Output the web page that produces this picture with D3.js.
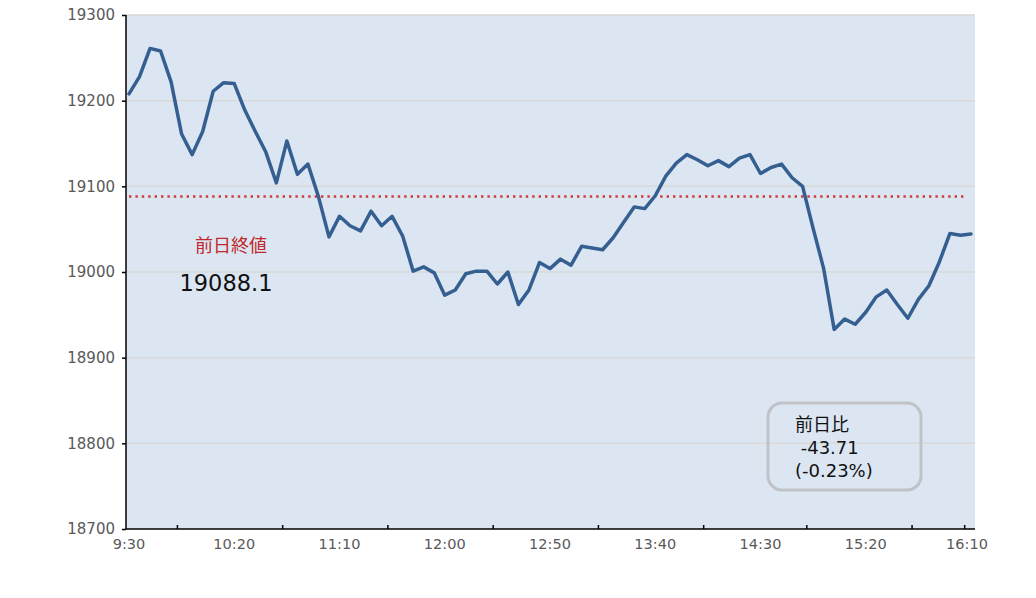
<!DOCTYPE html>
<html>
<head>
<meta charset="utf-8">
<script src="https://cdn.jsdelivr.net/npm/d3@7"></script>
<style>
  body { margin: 0; background: #fff; }
  svg { display: block; font-family: "DejaVu Sans", "Noto Sans CJK JP", sans-serif; }
</style>
</head>
<body>
<div id="chart"></div>
<script>
// 5-minute intervals from 9:30 to 16:10
const minutes = d3.range(0, 405, 5);
const prices = [
    19208, 19228, 19261, 19258, 19222, 19161, 19137, 19164, 19211, 19221,
    19220, 19189, 19164, 19140, 19104, 19153, 19114, 19126, 19088, 19041,
    19065, 19054, 19048, 19071, 19054, 19065, 19042, 19001, 19006, 18999,
    18973, 18979, 18998, 19001, 19001, 18986, 19000, 18962, 18979, 19011,
    19004, 19015, 19008, 19030, 19028, 19026, 19040, 19058, 19076, 19074,
    19089, 19112, 19127, 19137, 19131, 19124, 19130, 19123, 19133, 19137,
    19115, 19122, 19126, 19110, 19100, 19051, 19004, 18933, 18945, 18939,
    18953, 18971, 18979, 18962, 18946, 18968, 18984, 19012, 19045, 19043,
    19044.39
];
const prevClose = 19088.1;
const yTicks = [18700, 18800, 18900, 19000, 19100, 19200, 19300];
const xLabelMinutes = [0, 50, 100, 150, 200, 250, 300, 350, 400];
const xLabels = ["9:30", "10:20", "11:10", "12:00", "12:50", "13:40", "14:30", "15:20", "16:10"];
const xMinorTicks = [23, 73, 123, 173, 223, 273, 322, 372, 397];
const changeLines = ["前日比", " -43.71", "(-0.23%)"];

const W = 1036, H = 598;
const plot = { left: 126, right: 975, top: 15, bottom: 529 };

const svg = d3.select("#chart").append("svg")
    .attr("width", W)
    .attr("height", H);

const x = d3.scaleLinear()
    .domain([0, 400])
    .range([plot.left + 3, plot.right - 4]);

const y = d3.scaleLinear()
    .domain([18700, 19300])
    .range([plot.bottom, plot.top]);

// Plot background
svg.append("rect")
    .attr("x", plot.left)
    .attr("y", plot.top)
    .attr("width", plot.right - plot.left)
    .attr("height", plot.bottom - plot.top)
    .attr("fill", "#dce6f2");

// Gridlines
svg.append("g")
    .selectAll("line")
    .data(yTicks.slice(1))
    .join("line")
    .attr("x1", plot.left)
    .attr("x2", plot.right)
    .attr("y1", d => y(d))
    .attr("y2", d => y(d))
    .attr("stroke", "#d9d9d9")
    .attr("stroke-width", 1.5);

// Y axis
svg.append("g")
    .attr("transform", `translate(${plot.left},0)`)
    .call(d3.axisLeft(y).tickValues(yTicks).tickSize(4).tickPadding(7).tickFormat(d3.format("d")))
    .call(g => g.select(".domain").remove())
    .call(g => g.selectAll("line").attr("stroke", "#000").attr("stroke-width", 1.5))
    .call(g => g.selectAll("text").attr("fill", "#595959").attr("font-size", "15px")
        .attr("font-family", "\"DejaVu Sans\", sans-serif"));

svg.append("line")
    .attr("x1", plot.left).attr("x2", plot.left)
    .attr("y1", plot.top).attr("y2", plot.bottom)
    .attr("stroke", "#000").attr("stroke-width", 1.5);

// X axis
svg.append("line")
    .attr("x1", plot.left).attr("x2", plot.right)
    .attr("y1", plot.bottom).attr("y2", plot.bottom)
    .attr("stroke", "#000").attr("stroke-width", 1.5);

svg.append("g")
    .selectAll("line")
    .data(xMinorTicks)
    .join("line")
    .attr("x1", d => x(d))
    .attr("x2", d => x(d))
    .attr("y1", plot.bottom)
    .attr("y2", plot.bottom - 4)
    .attr("stroke", "#000")
    .attr("stroke-width", 1.5);

svg.append("g")
    .selectAll("text")
    .data(xLabelMinutes)
    .join("text")
    .attr("x", (d, i) => i === xLabelMinutes.length - 1 ? x(d) - 4 : x(d))
    .attr("y", plot.bottom + 15)
    .attr("dy", "0.35em")
    .attr("text-anchor", "middle")
    .attr("fill", "#595959")
    .attr("font-size", "14.5px")
    .text((d, i) => xLabels[i]);

// Previous close line
svg.append("line")
    .attr("x1", x(0))
    .attr("x2", x(400) - 6)
    .attr("y1", y(prevClose))
    .attr("y2", y(prevClose))
    .attr("stroke", "#d03a3a")
    .attr("stroke-width", 2.6)
    .attr("stroke-dasharray", "2.4,4")
    .attr("stroke-linecap", "butt");

// Price line
const line = d3.line()
    .x((d, i) => x(minutes[i]))
    .y(d => y(d));

svg.append("path")
    .datum(prices)
    .attr("d", line)
    .attr("fill", "none")
    .attr("stroke", "#355f91")
    .attr("stroke-width", 3.5)
    .attr("stroke-linejoin", "round")
    .attr("stroke-linecap", "round");

// Previous close annotation
svg.append("text")
    .attr("x", 231)
    .attr("y", 246)
    .attr("dy", "0.35em")
    .attr("text-anchor", "middle")
    .attr("fill", "#c0282d")
    .attr("font-family", "\"Noto Sans CJK JP\", sans-serif")
    .attr("font-size", "18px")
    .text("前日終値");

svg.append("text")
    .attr("x", 226)
    .attr("y", 283)
    .attr("dy", "0.35em")
    .attr("text-anchor", "middle")
    .attr("fill", "#111")
    .attr("font-size", "22.5px")
    .text(d3.format(".1f")(prevClose));

// Change box
svg.append("rect")
    .attr("x", 768)
    .attr("y", 403)
    .attr("width", 153)
    .attr("height", 87)
    .attr("rx", 14)
    .attr("fill", "none")
    .attr("stroke", "#bfc3c8")
    .attr("stroke-width", 3);

svg.append("g")
    .selectAll("text")
    .data(changeLines)
    .join("text")
    .attr("x", 795)
    .attr("y", (d, i) => 425 + i * 23)
    .attr("dy", "0.35em")
    .attr("fill", "#111")
    .attr("font-size", "18px")
    .attr("xml:space", "preserve")
    .style("white-space", "pre")
    .attr("font-family", (d, i) => i === 0 ? "\"Noto Sans CJK JP\", sans-serif" : "\"DejaVu Sans\", sans-serif")
    .text(d => d);
</script>
</body>
</html>
